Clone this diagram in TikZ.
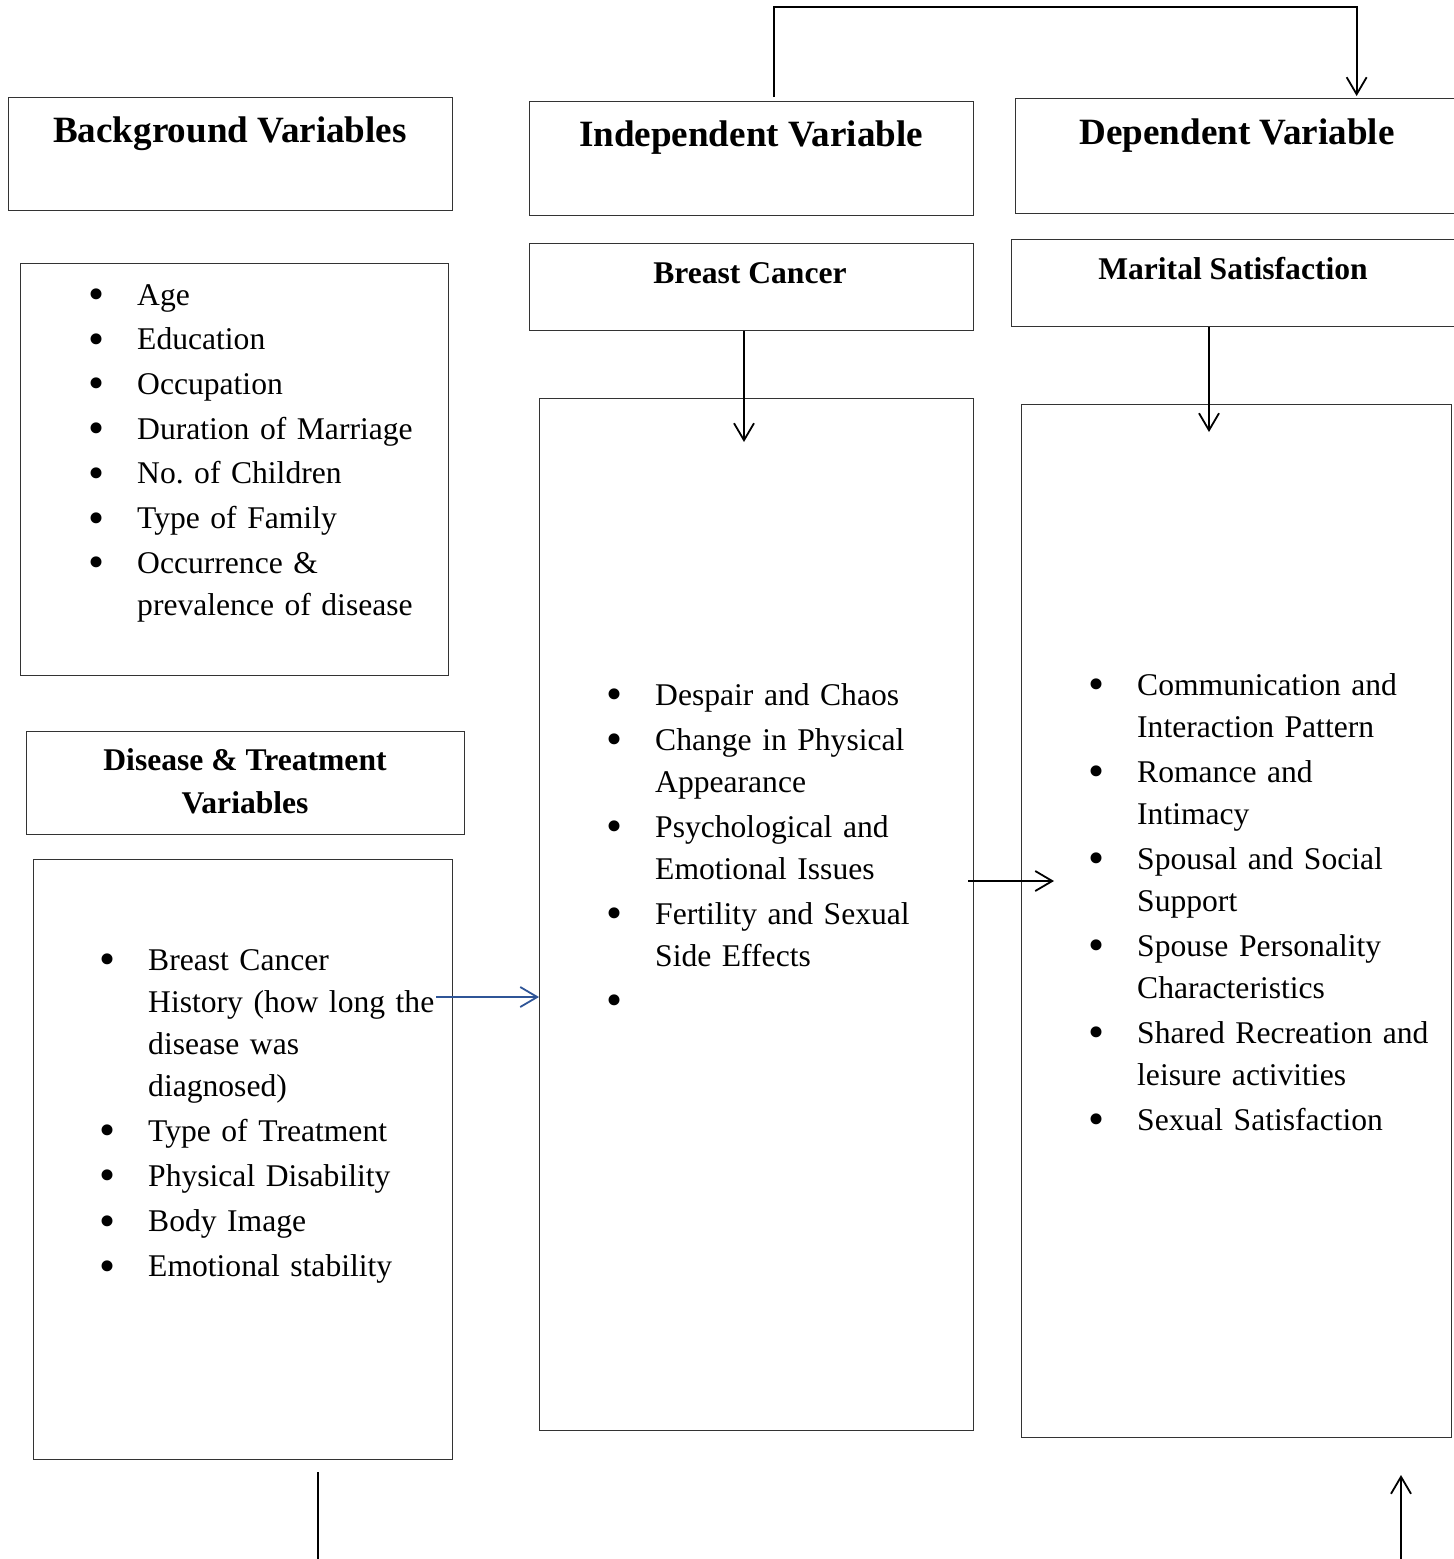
\documentclass[tikz,border=0pt]{standalone}
\usepackage{fontspec}
\setmainfont{Liberation Serif}
\usepackage{xcolor}
\usepackage{graphicx}
\usetikzlibrary{arrows.meta}
\definecolor{linkblue}{RGB}{47,85,151}
\newlength{\bwd}
\setlength{\bwd}{41pt}
\newcommand{\bitem}[1]{\noindent\hangindent=\bwd\hangafter=1\makebox[0pt]{\raisebox{-4.5pt}{\scalebox{1.45}{\textbullet}}}\hspace*{\bwd}#1\par}
\frenchspacing
\tikzset{
  box/.style={draw=black!80, line width=1.3pt, anchor=north west, inner sep=0pt},
  head/.style={anchor=base, inner sep=0pt, font=\fontsize{37.1}{44}\selectfont\bfseries},
  subhead/.style={anchor=base, inner sep=0pt, align=center, font=\fontsize{31.6}{43}\selectfont\bfseries},
  blist/.style={anchor=base west, inner sep=0pt, text width=380pt, font=\fontsize{31.6}{42}\selectfont},
  arr/.style={line width=1.8pt, -{Straight Barb[length=17pt,width=20pt,line width=1.8pt]}},
  plain/.style={line width=1.8pt}
}

\begin{document}
\begin{tikzpicture}[x=1pt,y=-1pt]
\useasboundingbox (0,0) rectangle (1454,1559);
\clip (0,0) rectangle (1454,1559);
% boxes
\node[box, minimum width=444pt, minimum height=113pt] (bgbox) at (8,97) {};
\node[box, minimum width=428pt, minimum height=412pt] (bglistbox) at (20,263) {};
\node[box, minimum width=444pt, minimum height=114pt] (ivbox) at (529,101) {};
\node[box, minimum width=444pt, minimum height=115pt] (dvbox) at (1015,98) {};
\node[box, minimum width=444pt, minimum height=87pt] (bcbox) at (529,243) {};
\node[box, minimum width=444pt, minimum height=87pt] (msbox) at (1011,239) {};
\node[box, minimum width=438pt, minimum height=103pt] (dtbox) at (26,731) {};
\node[box, minimum width=419pt, minimum height=600pt] (dtlistbox) at (33,859) {};
\node[box, minimum width=434pt, minimum height=1032pt] (ivbig) at (539,398) {};
\node[box, minimum width=430pt, minimum height=1033pt] (dvbig) at (1021,404) {};
% headings
\node[head] (bgtitle) at (230,142) {Background Variables};
\node[head] (ivtitle) at (751,146) {Independent Variable};
\node[head] (dvtitle) at (1237,144) {Dependent Variable};
\node[subhead] (bctitle) at (750,283) {Breast Cancer};
\node[subhead] (mstitle) at (1233,279) {Marital Satisfaction};
\node[subhead] (dttitle) at (245,813) {Disease \& Treatment\\Variables};
% lists
\node[blist] (bglist) at (96,305) {\setlength{\parskip}{2.7pt}%
  \bitem{Age}
  \bitem{Education}
  \bitem{Occupation}
  \bitem{Duration of Marriage}
  \bitem{No. of Children}
  \bitem{Type of Family}
  \bitem{Occurrence \&\newline prevalence of disease}};
\node[blist] (dtlist) at (107,970) {\setlength{\parskip}{3.2pt}%
  \bitem{Breast Cancer\newline History (how long the\newline disease was\newline diagnosed)}
  \bitem{Type of Treatment}
  \bitem{Physical Disability}
  \bitem{Body Image}
  \bitem{Emotional stability}};
\node[blist] (ivlist) at (614,705) {\setlength{\parskip}{3pt}%
  \bitem{Despair and Chaos}
  \bitem{Change in Physical\newline Appearance}
  \bitem{Psychological and\newline Emotional Issues}
  \bitem{Fertility and Sexual\newline Side Effects}
  \bitem{}};
\node[blist] (dvlist) at (1096,695) {\setlength{\parskip}{3pt}%
  \bitem{Communication and\newline Interaction Pattern}
  \bitem{Romance and\newline Intimacy}
  \bitem{Spousal and Social\newline Support}
  \bitem{Spouse Personality\newline Characteristics}
  \bitem{Shared Recreation and\newline leisure activities}
  \bitem{Sexual Satisfaction}};
% connectors
\coordinate (bctip) at (744,442);
\coordinate (mstip) at (1209,432);
\coordinate (histend) at (436,997);
\coordinate (ivout) at (968,881);
\coordinate (dvin) at (1054,881);
\coordinate (dttop) at (318,1472);
\coordinate (dtfoot) at (318,1559);
\coordinate (dvup) at (1401,1475);
\coordinate (dvfoot) at (1401,1559);
\draw[arr] ([xshift=22pt,yshift=4pt]ivbox.north) -- ++(0,-90) -| ([xshift=119pt,yshift=2pt]dvbox.north);
\draw[arr] (bcbox.south -| bctip) -- (bctip);
\draw[arr] (msbox.south -| mstip) -- (mstip);
\draw[arr, linkblue] (histend) -- (histend -| ivbig.west);
\draw[arr] (ivout) -- (dvin);
\draw[plain] (dttop) -- (dtfoot);
\draw[arr] (dvfoot) -- (dvup);
\end{tikzpicture}
\end{document}
